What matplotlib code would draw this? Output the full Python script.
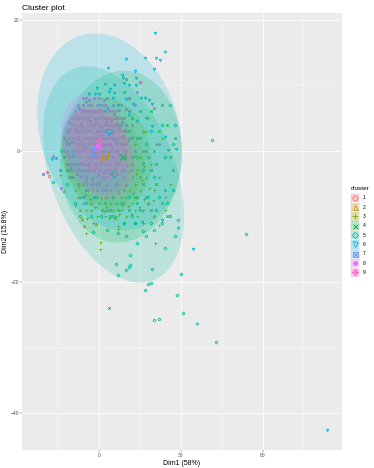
import numpy as np
import matplotlib
matplotlib.use("Agg")
import matplotlib.pyplot as plt

plt.rcParams['font.family'] = ['Liberation Sans', 'DejaVu Sans']

clusters = ["1", "2", "3", "4", "5", "6", "7", "8", "9"]
colors = ["#F8766D", "#D39200", "#93AA00", "#00BA38", "#00C19F",
          "#00B9E3", "#619CFF", "#DB72FB", "#FF61C3"]

# centres des clusters
centers_x = [-1.2, 1.4, 3.2, 8.7, 5.3, 3.6, -2.1, -0.5, -0.1]
centers_y = [-0.1, -1.1, -0.6, -0.9, -3.5, 2.9, 0.0, 0.8, 1.5]

# ellipses : centre, demi-etendues en x et y, correlation
ell_x = [-0.8, 1.4, 2.8, 8.0, 5.2, 3.8, -1.5, -0.3, 0.0]
ell_y = [-0.3, -1.0, -0.6, -0.9, -3.6, 2.9, 0.0, 0.6, 1.2]
ell_sx = [13.5, 15.0, 16.5, 22.4, 25.9, 26.6, 12.0, 13.5, 11.0]
ell_sy = [6.5, 7.5, 8.8, 13.1, 16.5, 15.0, 6.5, 8.0, 5.5]
ell_r = [-0.25, -0.15, -0.10, 0.05, -0.38, -0.20, -0.35, -0.30, -0.35]

c1 = [(-18.5, -3.8), (-9, 2), (-6, -3), (-4, 4), (-2, -2), (0, 3), (2, -4), (4, 1), (6, -2), (-7, 1),
      (-3, 0), (1, 0), (3, 4), (-5, -5), (7, 3), (-11, -1), (-1, -6), (5, 5), (9, 0), (0, -1)]
c2 = [(-6.2, -10.4), (-1.3, -11.2), (-5.7, -11.5), (5.9, -10.2), (-12.9, -6.1), (-8, -7), (-3, -8), (2, -7),
      (7, -6), (10, -5), (12, -2), (-10, -3), (-5, -5), (0, -5), (5, -3), (8, 1), (-7, -9), (3, -9), (9, -8),
      (16, 3), (-2, -3), (14, -7), (18, -8), (20, -10)]
c3 = [(20.6, -14.1), (21.8, -11.3), (6.8, -11.5), (6.8, -11.9), (8.8, -11), (0.4, -15), (-5, -12.5), (0.3, -13.9),
      (-2.4, -11), (-14.4, -3.7), (-9, -6), (-6, -8), (-3, -9), (0, -8), (2, -10), (4, -6), (6, -8), (8, -9),
      (10, -7), (12, -8), (14, -10), (16, -9), (18, -8), (20, -6), (22, -4), (24, -7), (26, -5), (-4, -6),
      (1, -6), (5, -9), (7, -5), (9, -4), (11, -3), (13, -5), (15, -6), (17, -4), (19, -2), (21, 1), (23, 2),
      (13, 1), (15, -1), (11, -6), (3, -7), (-1, -10), (-7, -7), (10, -10), (13, -9), (16, -11), (6, -10), (18, 5),
      (17, 3), (-2, -7), (8, -7), (12, -4), (14, -3), (24, -9), (4, -8), (-5, -9),
      (-7.6, -5.4), (-5.3, -6.8), (-3.4, -7.4), (-1.6, -8.6), (0.7, -7.2), (2.6, -8.5), (4.8, -7.1), (6.7, -6.4),
      (8.5, -8.2), (10.6, -8.4), (12.4, -6.5), (14.6, -8.6), (16.5, -7.3), (-8.8, -8.3), (-4.4, -10.2), (1.8, -9.1),
      (3.7, -10.3), (7.4, -9.7), (11.7, -9.6), (9.3, -5.4), (5.6, -5.2), (13.4, -3.6), (15.7, -4.4), (18.4, -5.6),
      (-2.7, -5.8), (0.4, -4.7), (2.2, -5.4), (7.9, -3.4), (10.3, -2.2), (12.7, -0.8), (16.4, -2.3), (19.6, -7.5)]
c4 = [(3.4, -24), (28, 2), (23, 7), (25, 4), (22, 3), (12, 5), (14, 2), (17, 0), (19, -3), (21, -5),
      (15, -4), (13, -7), (11, -9), (9, -6), (7, -9), (5, -7), (17, -7), (19, -9), (24, -6), (27, -3),
      (10, 11), (10, 0), (12, -1), (14, -8), (16, -5), (18, -1), (20, 0), (23, -8), (26, -1), (8, -3),
      (6, -5), (9, 9), (15, 6), (11, 3), (21, -2), (25, -10), (13, -11), (4, -10), (2, -8), (19, 6)]
c5 = [(53.9, -12.7), (29.1, -10.6), (24.2, -14.8), (16.2, -12.3), (11.3, -15.9), (6, -17.2), (11.3, -17.4),
      (11, -17.7), (10, -18.2), (19.4, -18), (6.9, -19), (30.1, -18.8), (17.8, -20.3), (18.9, -20.1), (16.7, -21.2),
      (28.6, -22), (30.8, -24.7), (20.2, -25.8), (21.8, -25.7), (43, -29.2), (41.4, 1.7), (-2.2, -12.4), (-17.1, -4.8),
      (0.5, -10), (3, -12), (7, -12.5), (10, -13), (13, -11), (14, -14), (17, -13), (19, -11), (21, -9), (23, -11),
      (25, -8), (27, -6), (28, -13), (26, -10), (22, -7), (20, -4), (24, -1), (27, 1), (23, 4), (28, 4), (26, 7),
      (18, -7), (16, -3), (12, -10), (9, -11), (5, -10), (1, -9), (-3, -10), (-7, -10), (-9, -8), (-12, -5),
      (20, -12), (15, -9), (11, -7), (8, -8), (4, -9), (-1, -7), (-5, -8), (17, 1), (19, 3), (14, -1)]
c6 = [(20.6, 18), (24, 15), (20.7, 14.2), (22.4, 13.9), (16.9, 14.1), (9.8, 14), (20.1, 12.4), (3.3, 12.6),
      (13.2, 12.1), (8.3, 11.5), (8.8, 11.1), (2.1, 10.2), (5.4, 10.1), (-1, 9.6), (3.8, 9.4), (3.4, 9), (5.5, 8.8),
      (-3.8, 8.6), (-1.7, 8.6), (-0.2, 8.6), (9.1, 10.4), (10.8, 10.1), (13.4, 10), (13.5, 11.1), (15.4, 8), (16.7, 8),
      (18.3, 7.7), (19.5, 7.1), (9.8, 7.9), (12.5, 7.2), (19.3, 3.8), (24.3, 2.1), (25.3, 0.1), (28.2, 0.2),
      (35.8, -26.4), (83.8, -42.6), (34.6, -15), (28.9, -11.7), (23.2, -10.5), (15.8, -10.9), (-17.5, -1.3),
      (-8, 6.5), (-10, 4), (-5, 7.5), (0, 7), (3, 6.5), (7, 7), (11, 5.5), (14, 4.5), (17, 5), (-12, 1.5),
      (-14, 0), (-11, -3), (5, 8), (8, 4), (15, 2), (-3, 6), (1, 5), (12, 2), (16, -2)]
c7 = [(-20.6, -3.6), (-15.9, -1.1), (-14.4, -3), (-13, -1), (-12, 1), (-11, -2), (-11, 3), (-10, 0), (-10, -4), (-9, 4),
      (-9, 2), (-9, -2), (-8, -5), (-8, 0), (-8, 5), (-7, 3), (-7, -1), (-7, -3), (-6, 6), (-6, 1), (-6, -5), (-5, 3),
      (-5, -2), (-5, -6), (-4, 5), (-4, 1), (-4, -3), (-3, 2), (-3, -1), (-3, -5), (-2, 6), (-2, 4), (-2, 0), (-2, -3),
      (-1, 3), (-1, -2), (-1, -5), (0, 5), (0, 1), (0, -3), (1, 2), (1, -1), (1, -4), (2, 6), (2, 3), (2, 0), (2, -3),
      (3, 2), (3, -2), (4, 4), (4, 0), (4, -3), (5, 2), (5, -1), (6, 4), (6, 0), (7, 2), (7, -2), (8, 1), (9, 3),
      (10, 1), (-12, -3), (-13, 2), (-6, -7), (-2, -7), (2, -6), (6, -5), (9, -3),
      (-10.4, 1.3), (-9.6, -0.7), (-8.7, 3.4), (-8.3, -3.6), (-7.4, 1.6), (-6.6, -1.8), (-6.3, 3.7), (-5.4, 0.6),
      (-4.7, -4.4), (-4.3, 3.2), (-3.6, -1.9), (-3.3, 4.6), (-2.5, -4.2), (-2.4, 1.7), (-1.6, -0.6), (-1.3, 4.4),
      (-0.6, -3.6), (-0.4, 2.3), (0.5, -1.7), (0.6, 3.7), (1.4, -3.2), (1.6, 0.8), (2.6, 4.4), (2.7, -1.3), (3.5, 0.9),
      (3.6, -3.4), (4.5, 2.7), (4.7, -0.8), (5.5, 3.6), (5.6, -2.6), (6.4, 1.4), (7.3, 3.5), (7.6, -0.6), (8.7, 2.2)]
c8 = [(-16.9, -0.8), (-14.2, -5.7), (-13, 0), (-12, 3), (-12, -2), (-11, 1), (-11, -4), (-10, 5), (-10, 2), (-10, -1),
      (-9, 6), (-9, 0), (-9, -3), (-8, 7), (-8, 3), (-8, -2), (-7, 5), (-7, 0), (-7, -4), (-6, 7), (-6, 3), (-6, -2),
      (-5, 8), (-5, 5), (-5, 0), (-5, -4), (-4, 7), (-4, 3), (-4, -1), (-4, -6), (-3, 6), (-3, 3), (-3, -3), (-2, 8),
      (-2, 2), (-2, -1), (-2, -5), (-1, 7), (-1, 5), (-1, 1), (-1, -4), (0, 8), (0, 4), (0, -1), (0, -5), (1, 7), (1, 4),
      (1, 1), (1, -2), (1, -6), (2, 7), (2, 5), (2, 1), (2, -2), (3, 8), (3, 4), (3, 0), (3, -4), (4, 6), (4, 2), (4, -2),
      (5, 7), (5, 4), (5, 0), (5, -4), (6, 6), (6, 2), (6, -2), (7, 5), (7, 0), (8, 7), (8, 3), (8, -1), (9, 5), (9, 1),
      (10, 4), (10, -1), (11, 6), (11, 2), (12, 4), (13, 7), (14, 9), (16, 0), (22, 1), (20, 6.5), (13, 0), (12, -3),
      (-11.5, -0.6), (-10.6, 3.3), (-10.3, -2.5), (-9.4, 1.4), (-8.6, 5.3), (-8.4, -0.8), (-7.7, 2.1), (-7.5, -2.7),
      (-6.8, 4.3), (-6.5, 0.4), (-6.2, -3.9), (-5.7, 6.2), (-5.5, 1.8), (-5.2, -1.4), (-4.6, 4.6), (-4.4, 0.5),
      (-3.8, -2.3), (-3.5, 5.4), (-3.2, 1.2), (-2.8, -4.4), (-2.6, 3.6), (-2.3, -0.4), (-1.7, 6.1), (-1.5, 2.7),
      (-1.2, -2.6), (-0.7, 4.2), (-0.5, 0.3), (-0.3, -4.6), (0.4, 6.3), (0.6, 2.4), (0.7, -2.1), (1.3, 5.1), (1.5, -0.5),
      (1.7, -4.3), (2.4, 3.1), (2.6, -0.9), (2.8, -5.2), (3.4, 6.2), (3.6, 2.2), (3.7, -2.7), (4.4, 4.5), (4.6, 0.4),
      (4.7, -3.6), (5.4, 5.6), (5.6, 1.7), (5.8, -1.5), (6.5, 4.2), (6.7, -0.7), (7.4, 6.2), (7.6, 2.1), (8.4, 4.4),
      (8.6, 0.2), (9.5, 3.1), (9.7, 6.4), (10.4, 1.6), (-12.4, 1.5), (-11.3, 4.4), (-7.2, 6.4), (-3.7, 7.7), (1.6, 7.8)]
c9 = [(-19.1, -3.3), (-12, 0), (-11, 2), (-10, -2), (-9, 3), (-8, 1), (-8, -3), (-7, 4), (-7, -2), (-6, 5), (-6, 0),
      (-5, 6), (-5, 2), (-5, -3), (-4, 6), (-4, 2), (-4, -2), (-3, 7), (-3, 4), (-3, 0), (-2, 5), (-2, 1), (-2, -2),
      (-1, 6), (-1, 2), (-1, -1), (0, 6), (0, 3), (0, 0), (1, 6), (1, 3), (1, 0), (2, 4), (2, 2), (2, -1), (3, 5), (3, 1),
      (3, -1), (4, 5), (4, 1), (5, 6), (5, 3), (6, 5), (6, 1), (7, 4), (8, 5), (9, 2), (10, 3), (11, 8), (-6, 8), (15, 10.5)]
points = [c1, c2, c3, c4, c5, c6, c7, c8, c9]

x_ticks = [0, 30, 60]
x_minor = [-15, 15, 45, 75]
y_ticks = [-40, -20, 0, 20]
y_minor = [-30, -10, 10]


def draw_marker(ax, x, y, i, ms, mew, zorder, clip=True):
    col = colors[i]
    kw = dict(ls="none", mfc="none", mec=col, mew=mew, zorder=zorder, clip_on=clip)
    if i == 0:
        ax.plot(x, y, marker="o", ms=ms, **kw)
    elif i == 1:
        ax.plot(x, y, marker="^", ms=ms, **kw)
    elif i == 2:
        ax.plot(x, y, marker="+", ms=ms * 1.2, **kw)
    elif i == 3:
        ax.plot(x, y, marker="x", ms=ms, **kw)
    elif i == 4:
        ax.plot(x, y, marker="D", ms=ms * 0.85, **kw)
    elif i == 5:
        ax.plot(x, y, marker="v", ms=ms, **kw)
    elif i == 6:
        ax.plot(x, y, marker="s", ms=ms, **kw)
        ax.plot(x, y, marker="x", ms=ms, **kw)
    elif i == 7:
        ax.plot(x, y, marker=(8, 2, 0), ms=ms, **kw)
    else:
        ax.plot(x, y, marker="D", ms=ms * 0.85, **kw)
        ax.plot(x, y, marker="+", ms=ms * 1.2, **kw)


fig = plt.figure(figsize=(3.74, 4.68), dpi=100)
ax = fig.add_axes([22 / 374, 1 - 450 / 468, 320 / 374, 437 / 468])
ax.set_facecolor("#EBEBEB")
ax.set_xlim(-28.4, 89.2)
ax.set_ylim(-45.6, 21)

for v in x_ticks:
    ax.axvline(v, color="white", lw=0.55, zorder=1)
for v in x_minor:
    ax.axvline(v, color="white", lw=0.3, zorder=1)
for v in y_ticks:
    ax.axhline(v, color="white", lw=0.55, zorder=1)
for v in y_minor:
    ax.axhline(v, color="white", lw=0.3, zorder=1)

for i in range(9):
    px = [p[0] for p in points[i]]
    py = [p[1] for p in points[i]]
    draw_marker(ax, px, py, i, 1.8, 0.6, 2)

# ellipses par dessus les points
t = np.linspace(0, 2 * np.pi, 200)
for i in range(9):
    r = ell_r[i]
    ex = ell_x[i] + ell_sx[i] * np.cos(t)
    ey = ell_y[i] + ell_sy[i] * (r * np.cos(t) + np.sqrt(1 - r ** 2) * np.sin(t))
    ax.fill(ex, ey, color=colors[i], alpha=0.2, lw=0, zorder=3 + i * 0.01)

for i in range(9):
    draw_marker(ax, centers_x[i], centers_y[i], i, 4.2, 0.7, 4)

for s in ax.spines.values():
    s.set_visible(False)
ax.set_xticks(x_ticks)
ax.set_yticks(y_ticks)
ax.set_yticklabels([str(v).replace("-", "\u2212") for v in y_ticks])
ax.tick_params(length=1.2, width=0.3, color="#333333", labelcolor="#4D4D4D", labelsize=3.6, pad=0.8)
ax.set_xlabel("Dim1 (58%)", fontsize=5, color="black", labelpad=1.5)
ax.set_ylabel("Dim2 (15.8%)", fontsize=5, color="black", labelpad=1)
ax.set_title("Cluster plot", fontsize=6, loc="left", pad=2.5)

# legende dessinee a la main, en pixels
leg = fig.add_axes([0, 0, 1, 1])
leg.set_xlim(0, 374)
leg.set_ylim(468, 0)
leg.axis("off")
leg.patch.set_alpha(0)
leg.text(350.5, 189, "cluster", fontsize=4.6, va="center", ha="left")
for i, name in enumerate(clusters):
    yc = 197.7 + i * 9.33
    leg.fill([350.5, 360, 360, 350.5], [yc - 4.6, yc - 4.6, yc + 4.6, yc + 4.6], color="#F2F2F2", lw=0)
    leg.fill([351, 359.5, 359.5, 351], [yc - 4.2, yc - 4.2, yc + 4.2, yc + 4.2], color=colors[i], alpha=0.25, lw=0)
    draw_marker(leg, 355.2, yc, i, 3.6, 0.6, 5, clip=False)
    leg.text(362.5, yc, name, fontsize=3.6, va="center", ha="left")

fig.savefig("out.png", dpi=100)
